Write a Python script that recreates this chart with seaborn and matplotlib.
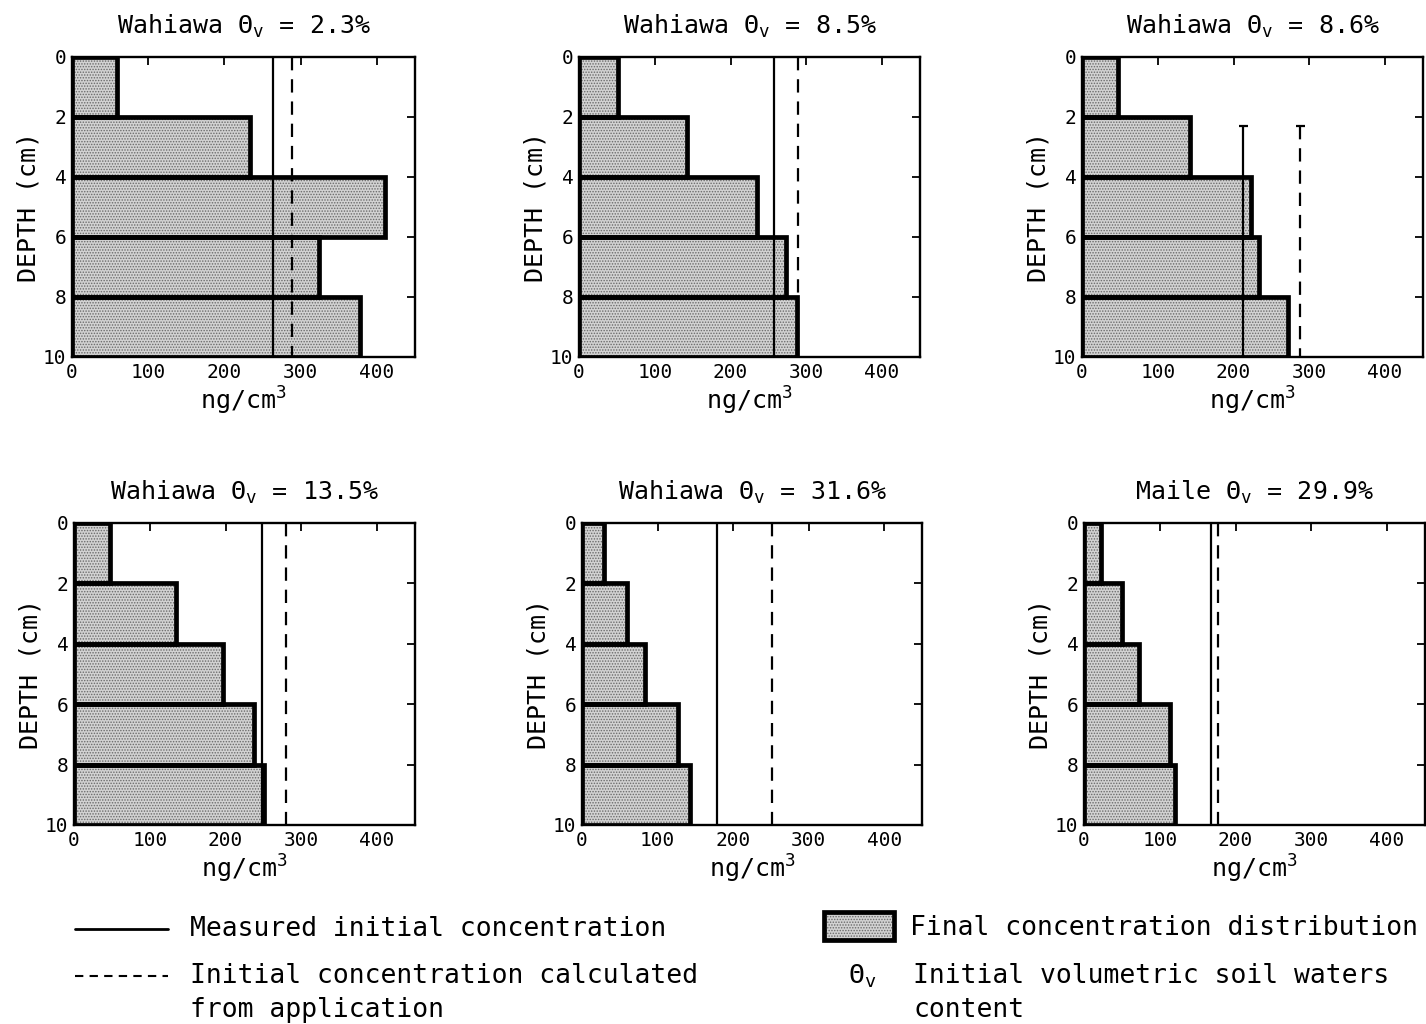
import matplotlib
matplotlib.use("Agg")
import matplotlib.pyplot as plt
import seaborn as sns
import pandas as pd
from matplotlib.lines import Line2D
from matplotlib.patches import Rectangle

sns.set_theme(style="white")
plt.rcParams['font.family'] = ['DejaVu Sans Mono', 'DejaVu Sans']
plt.rcParams['mathtext.fontset'] = 'custom'
plt.rcParams['mathtext.rm'] = 'DejaVu Sans Mono'
plt.rcParams['mathtext.it'] = 'DejaVu Sans Mono'
plt.rcParams['hatch.linewidth'] = 0.7
plt.rcParams['text.color'] = 'black'
plt.rcParams['axes.labelcolor'] = 'black'
plt.rcParams['xtick.color'] = 'black'
plt.rcParams['ytick.color'] = 'black'

# ---- data ----
depth_centers = [1, 3, 5, 7, 9]
titles = [
    "Wahiawa Θ$_\\mathrm{v}$ = 2.3%",
    "Wahiawa Θ$_\\mathrm{v}$ = 8.5%",
    "Wahiawa Θ$_\\mathrm{v}$ = 8.6%",
    "Wahiawa Θ$_\\mathrm{v}$ = 13.5%",
    "Wahiawa Θ$_\\mathrm{v}$ = 31.6%",
    "Maile Θ$_\\mathrm{v}$ = 29.9%",
]
final_conc_1 = [59, 233, 410, 324, 378]
final_conc_2 = [52, 143, 235, 273, 288]
final_conc_3 = [48, 143, 223, 234, 272]
final_conc_4 = [47, 134, 196, 238, 251]
final_conc_5 = [29, 59, 84, 127, 143]
final_conc_6 = [22, 50, 73, 113, 120]
final_concs = [final_conc_1, final_conc_2, final_conc_3,
               final_conc_4, final_conc_5, final_conc_6]
measured_initial = [264, 257, 213, 248, 179, 168]
calculated_initial = [288, 289, 288, 280, 252, 177]
line_start_depth = [0, 0, 2.3, 0, 0, 0]
x_ticks = [0, 100, 200, 300, 400]
y_ticks = [0, 2, 4, 6, 8, 10]

W, H = 1426, 1024
fig = plt.figure(figsize=(W / 100, H / 100), dpi=100)

# axes boxes in pixels: left, top, right, bottom
boxes = [
    (72, 57, 415, 357),
    (579, 57, 920, 357),
    (1082, 57, 1423, 357),
    (74, 523, 415, 825),
    (582, 523, 922, 825),
    (1084, 523, 1425, 825),
]

FILL = "#d2d2d2"
DOTS = "#6a6a6a"

for i, (l, t, r, b) in enumerate(boxes):
    ax = fig.add_axes([l / W, 1 - b / H, (r - l) / W, (b - t) / H])
    df = pd.DataFrame({"conc": final_concs[i], "depth": depth_centers})
    # stippled fill
    sns.barplot(data=df, x="conc", y="depth", orient="h", native_scale=True,
                width=1.0, color=FILL, saturation=1, edgecolor=DOTS,
                linewidth=0, hatch="......", ax=ax, zorder=1)
    # thick outlines
    sns.barplot(data=df, x="conc", y="depth", orient="h", native_scale=True,
                width=1.0, fill=False, edgecolor="black", linewidth=3.4,
                ax=ax, zorder=1.5)
    y0 = line_start_depth[i]
    ax.vlines(measured_initial[i], y0, 10, colors="black", linewidth=1.6, zorder=3)
    ax.vlines(calculated_initial[i], y0, 10, colors="black", linewidth=1.6,
              linestyles=(0, (6, 4)), zorder=3)
    if y0 > 0:
        for xv in (measured_initial[i], calculated_initial[i]):
            ax.hlines(y0, xv - 6, xv + 6, colors="black", linewidth=1.6, zorder=3)
    ax.set_xlim(0, 450)
    ax.set_ylim(10, 0)
    ax.set_xticks(x_ticks)
    ax.set_yticks(y_ticks)
    ax.tick_params(direction="in", top=True, right=True, length=6, width=1.3,
                   labelsize=14, pad=4, colors="black")
    for sp in ax.spines.values():
        sp.set_linewidth(1.7)
        sp.set_color("black")
    ax.set_xlabel("ng/cm$^3$", fontsize=18, labelpad=2)
    ax.set_ylabel("DEPTH (cm)", fontsize=18, labelpad=2)
    ax.set_title(titles[i], fontsize=18, pad=17)

# ---- legend ----
fs = 19
fig.add_artist(Line2D([75 / W, 168 / W], [1 - 929 / H] * 2, color="black", linewidth=2))
fig.text(190 / W, 1 - 929 / H, "Measured initial concentration", fontsize=fs, va="center")
fig.add_artist(Line2D([75 / W, 168 / W], [1 - 976 / H] * 2, color="black", linewidth=1.5,
                      linestyle=(0, (4, 3))))
fig.text(190 / W, 1 - 976 / H, "Initial concentration calculated", fontsize=fs, va="center")
fig.text(190 / W, 1 - 1010 / H, "from application", fontsize=fs, va="center")

fig.add_artist(Rectangle((824 / W, 1 - 940 / H), 70 / W, 28 / H, facecolor=FILL,
                         edgecolor=DOTS, hatch="......", linewidth=0,
                         transform=fig.transFigure))
fig.add_artist(Rectangle((824 / W, 1 - 940 / H), 70 / W, 28 / H, fill=False,
                         edgecolor="black", linewidth=3.4, transform=fig.transFigure))
fig.text(910 / W, 1 - 928 / H, "Final concentration distribution", fontsize=fs, va="center")
fig.text(862 / W, 1 - 976 / H, "Θ$_\\mathrm{v}$", fontsize=fs, va="center", ha="center")
fig.text(913 / W, 1 - 976 / H, "Initial volumetric soil waters", fontsize=fs, va="center")
fig.text(913 / W, 1 - 1010 / H, "content", fontsize=fs, va="center")

fig.savefig("out.png", dpi=100)
